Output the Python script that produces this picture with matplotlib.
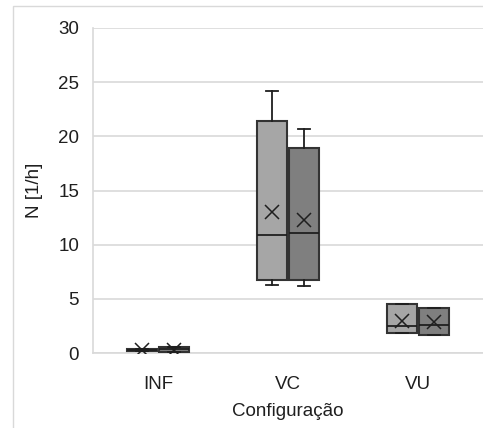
import matplotlib
matplotlib.use('Agg')
import matplotlib.pyplot as plt
from matplotlib.patches import Rectangle

plt.rcParams['font.family'] = ['Liberation Sans', 'DejaVu Sans']

categories = ['INF', 'VC', 'VU']

# series 1 (light) and series 2 (dark): whisker low, q1, median, q3, whisker high, mean
s1_whislo = [0.22, 6.25, 1.88]
s1_q1 = [0.22, 6.75, 1.88]
s1_med = [0.30, 10.85, 2.5]
s1_q3 = [0.38, 21.4, 4.5]
s1_whishi = [0.38, 24.2, 4.5]
s1_mean = [0.30, 13.0, 3.0]

s2_whislo = [0.05, 6.15, 1.67]
s2_q1 = [0.05, 6.7, 1.67]
s2_med = [0.35, 11.1, 2.6]
s2_q3 = [0.55, 18.95, 4.13]
s2_whishi = [0.55, 20.65, 4.13]
s2_mean = [0.32, 12.25, 2.9]

fig = plt.figure(figsize=(4.83, 4.28), dpi=100)
ax = fig.add_axes([93 / 483, 1 - 353 / 428, 1 - 93 / 483, (353 - 28) / 428])

fig.patches.append(Rectangle((13 / 483, -0.1), 1.0, 0.1 + (428 - 6) / 428,
                             transform=fig.transFigure, fill=False,
                             edgecolor='#d9d9d9', linewidth=1.0, zorder=0))


def make_stats(lo, q1, med, q3, hi, mean):
    return [dict(whislo=a, q1=b, med=c, q3=d, whishi=e, mean=f, fliers=[])
            for a, b, c, d, e, f in zip(lo, q1, med, q3, hi, mean)]


edge = '#333333'
for stats, offset, color in [
        (make_stats(s1_whislo, s1_q1, s1_med, s1_q3, s1_whishi, s1_mean), -0.123, '#a6a6a6'),
        (make_stats(s2_whislo, s2_q1, s2_med, s2_q3, s2_whishi, s2_mean), 0.123, '#7f7f7f')]:
    pos = [i + offset for i in range(len(categories))]
    ax.bxp(stats, positions=pos, widths=0.23, patch_artist=True, showmeans=True,
           showfliers=False,
           boxprops=dict(facecolor=color, edgecolor=edge, linewidth=1.5),
           medianprops=dict(color='#1f1f1f', linewidth=1.3),
           whiskerprops=dict(color='#1f1f1f', linewidth=1.3),
           capprops=dict(color='#1f1f1f', linewidth=1.3),
           capwidths=0.09,
           meanprops=dict(marker='x', markeredgecolor='#1f1f1f', markersize=10,
                          markeredgewidth=1.1),
           zorder=3)

ax.set_xlim(-0.5, 2.5)
ax.set_ylim(0, 30)
ax.set_yticks([0, 5, 10, 15, 20, 25, 30])
ax.set_xticks(range(len(categories)))
ax.set_xticklabels(categories)
ax.tick_params(axis='both', length=0, labelsize=13.5, colors='#1f1f1f', pad=10)
ax.tick_params(axis='x', pad=16.5)
ax.grid(axis='y', color='#d9d9d9', linewidth=1.2, zorder=0)
ax.set_axisbelow(True)
for side in ['top', 'right']:
    ax.spines[side].set_visible(False)
ax.spines['left'].set_color('#d9d9d9')
ax.spines['bottom'].set_color('#d9d9d9')
ax.spines['left'].set_linewidth(1.2)
ax.spines['bottom'].set_linewidth(1.2)

ax.set_ylabel('N [1/h]', fontsize=13.5, color='#1f1f1f', labelpad=11)
ax.set_xlabel('Configuração', fontsize=13.5, color='#1f1f1f', labelpad=7.5)

plt.savefig('out.png', dpi=100)
